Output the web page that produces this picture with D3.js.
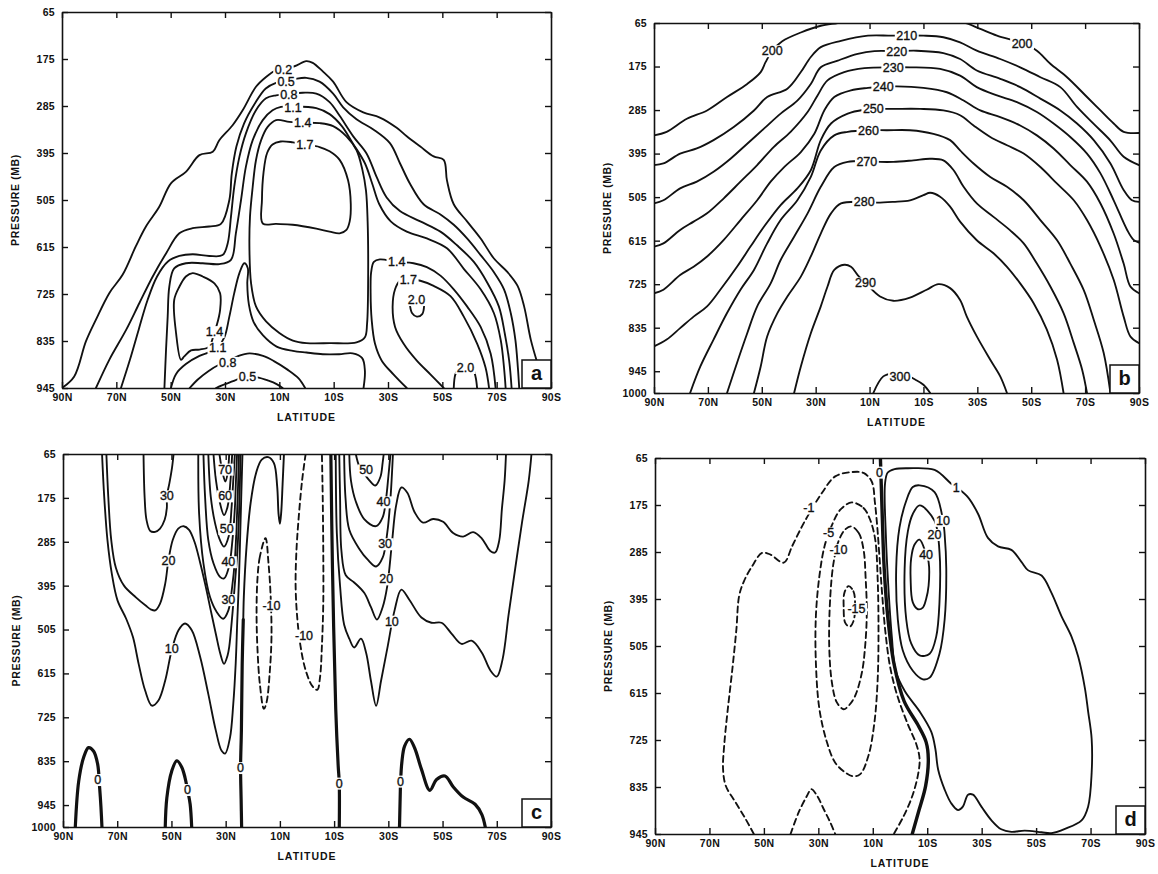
<!DOCTYPE html>
<html>
<head>
<meta charset="utf-8">
<script src="https://cdn.jsdelivr.net/npm/d3@7"></script>
<style>
  body { margin: 0; background: #fff; }
  svg { display: block; font-family: "Liberation Sans", Arial, sans-serif; }
</style>
</head>
<body>
<svg id="fig" width="1158" height="874"></svg>
<script>
// ---- axis values ----
const pTicks = [65, 175, 285, 395, 505, 615, 725, 835, 945];
const latTicks = [90, 70, 50, 30, 10, -10, -30, -50, -70, -90];

// ---- panel a : contours as [latitude (N +, S -), pressure mb] ----
const a02 = [[90,945],[85.5,918],[81.2,836],[77.5,785],[72.6,723],[67.7,680],[62.8,613],[59.1,567],[54.2,521],[49.9,466],[44.4,439],[39.4,400],[34.5,392],[32.1,365],[27.2,330],[23.5,295],[18.6,240],[14.9,217],[11.2,201],[8,195],[4.4,192],[0.1,180],[-2.3,184],[-6,204],[-9.8,228],[-14.7,276],[-20.9,300],[-27,312],[-33.2,336],[-36.9,356],[-41.9,380],[-46.8,403],[-50.5,411],[-51.7,459],[-54.2,515],[-59.1,555],[-64.1,595],[-69,642],[-74,674],[-77.7,706],[-80.1,754],[-82.6,833],[-85.1,889],[-86.3,913],[-87,945]];
const a05 = [[77.5,945],[72.6,879],[66.4,809],[61.5,746],[56.6,684],[51.7,630],[46.8,583],[41.9,571],[35.8,567],[31.5,561],[28.4,505],[27.5,443],[25.8,380],[23,326],[19,279],[15,244],[11.2,231],[7.5,226],[4.4,222],[0.1,219],[-4.8,228],[-9.8,256],[-13.5,288],[-18.4,316],[-24.6,340],[-30.7,372],[-34.4,419],[-38.1,467],[-43.1,515],[-49.3,539],[-54.2,563],[-59.1,595],[-64.1,634],[-69,674],[-72.7,714],[-75.2,770],[-76.9,833],[-77.8,897],[-78.3,945]];
const a08 = [[68.3,945],[65,879],[61.8,809],[58.5,739],[55,684],[51,649],[46.8,636],[41.9,632],[35.8,636],[30.9,634],[29,606],[27.8,544],[26.6,474],[24.7,404],[22.3,349],[18.6,295],[14.9,267],[11.2,260],[6.5,257],[1.4,254],[-3.6,256],[-8.5,276],[-12.2,308],[-17.2,356],[-22.1,396],[-25.8,451],[-29.5,499],[-34.4,531],[-41.9,555],[-49.3,579],[-55.4,611],[-61.6,650],[-66.5,698],[-70.8,754],[-73,818],[-74.6,881],[-75.5,945]];
const a11 = [[52.3,945],[51.7,855],[51.1,778],[50.5,708],[48.7,665],[44.4,653],[38.2,653],[32.1,655],[27.8,645],[26,583],[24.1,505],[22.3,427],[19.8,365],[16.1,318],[12.5,295],[9.4,287],[5,286],[-3.6,290],[-8.5,304],[-13,332],[-17,372],[-21.5,419],[-24.2,467],[-26.8,515],[-31,555],[-36.9,579],[-44.3,595],[-51.7,618],[-57.9,666],[-64.1,714],[-69,770],[-71.5,833],[-72.7,897],[-73.3,945]];
const a14box = [[11.2,318],[14.3,334],[16.7,365],[18.6,412],[19.8,474],[20.8,544],[21,622],[20.4,700],[18.6,754],[14.9,789],[10,816],[5,834],[0,840],[-8.5,840],[-18.4,838],[-21.5,826],[-22.3,794],[-22.7,674],[-22.5,555],[-21.9,483],[-20.6,435],[-18.4,388],[-14.7,356],[-9.8,332],[-4.8,325],[1.4,324],[6.3,322]];
const a17box = [[16.1,560],[16.4,505],[15.8,440],[14.5,395],[12.5,375],[9.5,368],[5,370],[0.6,375],[-4.8,381],[-8.5,391],[-12.2,411],[-15.3,459],[-16.3,515],[-15.9,555],[-14.7,575],[-12.2,583],[-8.5,579],[-3.6,572],[5.1,563],[11.2,561]];
const a14blob = [[46.2,879],[48,817],[48.7,739],[46.8,708],[44.4,684],[41.9,676],[38.2,684],[33.9,700],[31.8,723],[31.8,762],[33,797],[33.9,813],[35.8,848],[39.4,855],[42.5,857],[45,871]];
const a11dome = [[49.9,945],[48,912],[44.4,889],[39.4,870],[35.2,860],[32.7,850],[30.2,826],[28.4,778],[26.6,723],[24.7,676],[22.9,653],[21.6,665],[21.8,700],[21.2,750],[19.5,790],[16,822],[11,848],[5,858],[0,862],[-6,866],[-12,866],[-17,864],[-20.5,875],[-21.5,905],[-21,945]];
const a08dome = [[43,945],[40,925],[36,905],[32,890],[29,883],[25,870],[21,864],[16,870],[12,882],[7,902],[3,922],[0.5,945]];
const a05dome = [[33.3,945],[30,936],[27,929],[24,921],[21.7,918],[18,920],[14,928],[11,936],[8.8,945]];
const a14r = [[-36.9,945],[-32,913],[-27.7,881],[-25.2,841],[-24,786],[-23.6,722],[-23.8,674],[-24.8,650],[-27,644],[-33.2,650],[-39.4,653],[-44.3,662],[-49.3,682],[-54.2,714],[-59.1,754],[-64.1,802],[-67.8,865],[-69.6,945]];
const a17r = [[-50.5,945],[-45.6,913],[-40.6,881],[-35.7,841],[-32.6,802],[-31.7,754],[-32.6,714],[-34.4,694],[-37.5,690],[-41.9,694],[-46.8,706],[-53,730],[-57.9,778],[-62.8,841],[-65.9,897],[-67.2,945]];
const a20u = [[-38.1,752],[-38.9,770],[-40.6,778],[-42.6,772],[-43.3,752]];
const a20b = [[-54.2,945],[-54.8,913],[-56,901],[-58,897],[-60,897],[-61.4,902],[-62.3,921],[-62.8,945]];
const labA = [[8.5,199,"0.2"],[7.5,228,"0.5"],[6.5,259,"0.8"],[5,288,"1.1"],[1.4,324,"1.4"],[0.6,375,"1.7"],
  [33.9,813,"1.4"],[32.7,850,"1.1"],[29,885,"0.8"],[21.7,918,"0.5"],
  [-33.2,650,"1.4"],[-37.5,690,"1.7"],[-40.5,738,"2.0"],[-58.5,897,"2.0"]];

// ---- panel b ----
const b200a = [[90,349],[85.3,340],[77.8,307],[70.3,286],[62.9,252],[55.4,219],[50.4,189],[48.6,164],[46.1,135],[42.4,111],[35.5,89],[28.1,72],[21.8,65],[18,60]];
const b200b = [[-22,60],[-26.1,66],[-31.1,80],[-37.3,97],[-46.6,116],[-52.1,135],[-57.1,168],[-63.3,202],[-70.7,252],[-75.7,286],[-80.6,319],[-84.3,340],[-90,343]];
const b210 = [[90,424],[86.5,420],[80.3,395],[74.1,382],[67.9,361],[60.4,328],[52.9,286],[48,252],[40.5,231],[35.5,189],[31.8,151],[28.1,126],[20.6,110],[10.6,97],[1.8,97],[-10,97],[-17.4,101],[-23.6,114],[-29.8,135],[-38.5,156],[-45.9,177],[-53.4,202],[-60.8,227],[-67,277],[-73.2,320],[-79.4,362],[-84.3,403],[-90,424]];
const b220 = [[90,521],[86.5,513],[80.3,483],[74.1,466],[67.9,441],[61.6,408],[55.4,370],[49.2,332],[43,294],[36.8,261],[31.8,219],[28.1,177],[21.8,160],[14.4,143],[8.2,136],[-0.1,136],[-7.5,135],[-17.4,141],[-23.6,156],[-29.8,185],[-38.5,206],[-45.9,227],[-53.4,256],[-60.8,286],[-67,319],[-73.2,361],[-79.4,420],[-84.3,487],[-87.4,513],[-90,517]];
const b230 = [[90,630],[86.5,622],[80.3,588],[75.3,567],[70.3,546],[64.1,508],[57.9,466],[51.7,424],[45.5,378],[39.3,340],[33,290],[29.3,248],[25.6,210],[19.4,189],[11.9,179],[1.2,177],[-5,177],[-16.2,181],[-23.6,198],[-29.8,227],[-37.3,248],[-44.7,265],[-52.1,290],[-58.3,319],[-64.5,353],[-70.7,395],[-75.7,445],[-80.6,513],[-85.6,588],[-88,613],[-90,620]];
const b240 = [[90,748],[86.5,739],[80.3,702],[75.3,681],[70.3,655],[64.1,613],[57.9,563],[51.7,513],[46.7,466],[41.7,429],[35.5,391],[30.5,345],[26.8,286],[23.1,252],[16.9,235],[10.6,229],[4.9,226],[-0.1,225],[-10,229],[-18.7,240],[-24.9,261],[-31.1,286],[-38.5,303],[-45.9,324],[-52.1,349],[-58.3,382],[-64.5,424],[-70.7,466],[-75.7,521],[-80.6,597],[-84.3,673],[-86.8,731],[-90,748]];
const b250 = [[90,882],[85.3,865],[80.3,836],[75.3,807],[70.3,781],[65.4,739],[59.2,681],[54.2,630],[49.2,580],[43,525],[36.8,483],[31.8,437],[28.1,361],[24.3,319],[18.1,294],[11.9,284],[8.6,282],[1.2,282],[-8.8,282],[-17.4,286],[-23.6,298],[-28.6,324],[-34.8,353],[-41,374],[-47.2,395],[-53.4,429],[-59.6,471],[-65.8,513],[-70.7,563],[-75.7,630],[-80.6,714],[-84.3,807],[-86.8,857],[-90,874]];
const b260 = [[76.6,1000],[72.8,933],[67.9,865],[62.9,798],[57.9,739],[52.9,689],[48,622],[43,563],[36.8,513],[31.8,454],[28.1,387],[23.1,349],[18.1,340],[10.4,336],[3.6,336],[-5,336],[-13.7,345],[-19.9,361],[-23.6,387],[-28.6,420],[-34.8,454],[-41,479],[-47.2,513],[-53.4,563],[-59.6,614],[-64.5,673],[-69.5,740],[-73.2,815],[-76.9,899],[-79.4,1000]];
const b270 = [[62.9,1000],[59.2,924],[55.4,849],[51.7,781],[46.7,723],[43,664],[38,605],[33,546],[28.1,479],[23.1,429],[18.1,416],[11,414],[6.1,416],[1.2,416],[-6.3,412],[-12.5,408],[-17.4,412],[-21.2,437],[-24.9,479],[-29.8,521],[-36,555],[-42.2,589],[-47.2,622],[-52.1,673],[-57.1,731],[-62,798],[-65.8,874],[-68.9,941],[-70.7,1000]];
const b280 = [[52.9,1000],[50.4,933],[48,857],[44.2,798],[40.5,756],[35.5,706],[31.8,655],[28.1,597],[24.3,546],[20.6,521],[12,517],[7.3,519],[1.2,517],[-5,513],[-10,500],[-12.5,494],[-16.2,504],[-19.9,529],[-23.6,567],[-29.8,614],[-36,647],[-41,681],[-45.9,723],[-50.9,773],[-55.8,840],[-59.6,916],[-62,1000]];
const b290 = [[38,1000],[35.5,933],[31.8,849],[28.1,781],[25.6,731],[23.1,689],[19.4,676],[16.9,681],[14.4,702],[11.5,722],[6.1,756],[1.2,767],[-5,759],[-11.2,739],[-15.6,725],[-19.9,735],[-23.6,765],[-26.1,807],[-29.8,857],[-34.8,916],[-38.5,958],[-41,1000]];
const b300 = [[8.6,1000],[4.9,958],[1,950],[-2,950],[-6.9,966],[-10,979],[-12.5,1000]];
const labB = [[46.1,135,"200"],[-46.6,116,"200"],[-3.8,97,"210"],[-0.1,136,"220"],[1.2,177,"230"],[4.9,226,"240"],
  [8.6,282,"250"],[10.4,336,"260"],[11,414,"270"],[12,517,"280"],[11.5,722,"290"],[-1.3,958,"300"]];

// ---- panel c ----
const c10n = [[75.6,65],[74.8,172],[73.6,281],[72,365],[69.9,432],[66.7,478],[64.2,524],[62.1,591],[59.7,658],[57.2,696],[54.8,683],[52.3,633],[49.9,557],[47.4,507],[45,490],[42.5,507],[39.4,574],[36.4,667],[33.6,759],[31.5,809],[30.2,816],[28.4,776],[27.2,692],[26.3,590],[25.7,480],[25.1,381],[24.6,260],[24.2,160],[23.8,65]];
const c20n = [[74,65],[73.3,172],[72.2,281],[70.5,350],[67.5,395],[63,425],[59.5,445],[57.5,455],[56,457],[54.2,440],[52.3,390],[51.1,331],[49.5,280],[47.5,252],[45.5,246],[43.5,255],[41.5,285],[39.5,335],[37.6,390],[35.5,457],[33.5,520],[32,565],[30.6,591],[29.3,570],[28.7,549],[27.5,465],[26.5,381],[25.6,300],[25,200],[24.5,65]];
const c30u = [[60.3,65],[59.9,172],[59.2,230],[57.8,258],[56,260],[54.2,252],[52.5,230],[51.7,200],[51.7,170],[50.8,140],[49.8,100],[49.2,65]];
const c30 = [[40.1,65],[39.8,214],[38.2,339],[35.8,423],[33.3,461],[30.9,478],[29,457],[27.6,398],[26.6,330],[26,250],[25.5,160],[25.1,65]];
const c40 = [[38.2,65],[37.6,172],[36.4,281],[34.5,339],[32.1,373],[30.6,377],[28.8,348],[27.5,281],[26.6,200],[26.2,130],[25.8,65]];
const c50 = [[36.4,65],[35.5,172],[33.9,239],[32.1,281],[30.6,297],[28.9,272],[27.8,197],[27.1,120],[26.6,65]];
const c60 = [[34.5,65],[33.6,130],[32.1,188],[30.6,218],[29.3,197],[28.2,130],[27.6,65]];
const c70 = [[32.3,65],[31.1,113],[30.1,134],[29.2,109],[28.7,65]];
const c0dome1 = [[85.5,1005],[84.2,885],[82.4,826],[80.6,801],[78.7,810],[77.2,843],[76.5,900],[76,950],[75.6,1005]];
const c0dome2 = [[52.3,1005],[51.7,927],[49.9,860],[48,834],[46.2,850],[45,876],[44.1,906],[43.1,943],[42.5,1005]];
const c0lower = [[24.1,1005],[24.3,930],[24.5,851],[24.2,759],[23.9,591],[23.5,480]];
const c0upper = [[23.5,480],[23.3,423],[22.3,297],[20.8,188],[18.8,113],[16.7,79],[14.3,73],[12.2,88],[11,146],[10.5,215],[10,240],[9.5,210],[9,140],[8.5,65]];
const cm10a = [[15.3,276],[17.4,323],[18.3,381],[18.6,465],[18.3,549],[17.4,641],[15.9,704],[14.9,687],[13.7,608],[13.1,524],[13.4,423],[14.2,339]];
const cm10b = [[0.5,65],[1.8,131],[3,219],[3.9,308],[4.2,396],[3.6,475],[2.4,546],[0.5,607],[-2,647],[-3.8,656],[-4.8,625],[-5.5,546],[-6,440],[-6,308],[-5.8,175],[-5.5,65]];
const c0eq = [[-8.8,65],[-9.4,352],[-10.6,704],[-11.5,846],[-11.9,890],[-11.9,1005]];
const c50s = [[-18,65],[-19.3,96],[-21.5,118],[-23,131],[-25.2,144],[-27.1,122],[-27.9,87],[-28.3,65]];
const c40s = [[-15.6,65],[-16.2,131],[-18,184],[-21.1,228],[-25.5,246],[-27.9,224],[-29.2,175],[-30,122],[-30.8,65]];
const c30s = [[-13.7,65],[-14.2,175],[-15.6,255],[-19.3,303],[-22.4,330],[-25.5,347],[-27.9,325],[-29.6,263],[-30.8,175],[-31.7,65]];
const c20s = [[-11.9,65],[-12.2,175],[-12.7,308],[-14.3,369],[-17.4,387],[-21.1,413],[-23.6,449],[-25.8,480],[-27.9,449],[-29.6,396],[-31.3,290],[-32.9,193],[-34.8,149],[-37,162],[-39.7,211],[-42.8,237],[-46.5,228],[-50.2,235],[-53.9,263],[-57.6,272],[-61.3,261],[-64.5,277],[-67.6,308],[-69.4,312],[-70.9,282],[-71.9,202],[-72.9,131],[-73.4,65]];
const c10s = [[-10.6,65],[-11,263],[-12.2,396],[-13.7,493],[-15.6,528],[-17.4,550],[-19.9,528],[-21.8,563],[-23.6,634],[-25.5,696],[-27.3,634],[-29.8,546],[-32.3,457],[-34.8,405],[-37.8,431],[-42.2,475],[-45.9,488],[-49.6,488],[-53.3,515],[-57,541],[-60.7,533],[-64.5,563],[-67.6,607],[-70,623],[-72.1,581],[-74.4,466],[-76.8,352],[-79.3,237],[-81.8,131],[-82.8,65]];
const c0s = [[-34.1,1005],[-34.4,916],[-34.5,890],[-35,837],[-36,797],[-37.8,780],[-39.7,802],[-42.2,855],[-45.3,908],[-47.8,881],[-50.9,872],[-53.9,899],[-57.6,925],[-62,943],[-64.5,969],[-65.9,1005]];
const labC = [[51.7,170,"30"],[51.1,331,"20"],[49.9,553,"10"],[30.2,103,"70"],[30.2,170,"60"],[29.6,252,"50"],[29,335,"40"],[29,430,"30"],
  [13.1,444,"-10"],[1.1,519,"-10"],[77.2,881,"0"],[44.1,906,"0"],[24.5,851,"0"],[-11.9,890,"0"],[-34.5,885,"0"],
  [-21.8,105,"50"],[-28.2,185,"40"],[-28.8,290,"30"],[-29.2,378,"20"],[-31.3,484,"10"]];

// ---- panel d ----
const dm1 = [[53.7,945],[56.7,910],[60.4,871],[64,832],[65,793],[64.6,739],[63.4,661],[61.6,560],[60.1,466],[59.1,388],[57.3,353],[54.3,318],[50.6,287],[47.6,291],[42.7,310],[39.6,271],[36,225],[32.9,190],[28.7,147],[23.8,108],[17.7,98],[13.4,100],[10.4,120],[9.2,170],[8.3,230],[7.5,300],[6.6,380],[5.4,470],[3.6,555],[0.8,625],[-3,690],[-6,735],[-7.2,770],[-6.5,810],[-4.3,860],[-1.2,905],[2.3,945]];
const dm1b = [[40.2,945],[37.2,894],[34.1,855],[32.6,840],[30.5,855],[28,887],[25.6,918],[23.8,945]];
const dm5 = [[17.7,169],[13.4,182],[11,209],[9.1,256],[8.2,349],[7.9,466],[8.2,583],[9.4,684],[11.6,762],[14.6,805],[17.1,810],[20.1,801],[23.8,778],[26.8,731],[29.6,653],[30.9,544],[30.9,435],[29.6,341],[27.7,271],[25.2,225],[21.9,186]];
const dm10 = [[17.9,225],[15.2,240],[13.4,279],[12.6,349],[12.2,427],[12.8,505],[14,567],[16.5,622],[18.9,645],[20.7,653],[23.2,637],[25,591],[26,505],[25.6,388],[24.4,310],[22.6,260],[20.1,232]];
const dm15 = [[18.9,365],[17.1,377],[16.5,412],[17.1,447],[18.5,460],[20.1,451],[20.7,412],[20.4,380]];
const d0 = [[7.2,65],[6.9,125],[6.5,204],[5.8,324],[4.4,443],[2.2,547],[-1.5,634],[-6.6,690],[-9.6,730],[-10.4,770],[-9.4,833],[-7,889],[-4.5,945]];
const d1 = [[5.5,125],[4.5,99],[2,91],[-2.9,89],[-12.7,93],[-18.8,125],[-20.7,133],[-25,157],[-28.7,196],[-32.3,252],[-36,272],[-40.9,280],[-44.6,308],[-47.1,328],[-52,340],[-55.6,380],[-59.3,435],[-63,483],[-65.5,531],[-67.9,603],[-69.1,658],[-70.4,722],[-70.4,802],[-69.1,881],[-66.7,913],[-60.6,933],[-55.6,943],[-52,941],[-45.8,937],[-40.9,940],[-37.2,934],[-33.6,913],[-29.9,881],[-26.8,853],[-25,853],[-23.1,881],[-21.3,889],[-18.8,873],[-16.4,841],[-14,794],[-13,746],[-11.5,706],[-7.2,658],[-1.8,611],[1.6,563],[3,483],[4.3,364],[5.2,244]];
const d10 = [[-7.2,129],[-12.7,145],[-15.8,211],[-16.4,244],[-17,324],[-16.4,443],[-14.5,523],[-10.9,579],[-8.4,583],[-4.7,563],[-1,515],[0.8,443],[1.4,324],[0.2,228],[-2.3,165],[-4.7,133]];
const d20 = [[-7.2,176],[-12.7,212],[-14.5,284],[-14.5,403],[-13.3,483],[-10.9,523],[-7.2,527],[-4.1,499],[-2.3,443],[-1.7,324],[-2.9,236],[-4.7,196]];
const d40 = [[-7.2,256],[-9.6,290],[-10.5,308],[-10.5,364],[-9.6,395],[-8.4,415],[-6.6,419],[-4.7,403],[-3.9,348],[-4.1,300],[-5.3,268]];
const labD = [[33.5,182,"-1"],[26.2,240,"-5"],[22.6,279,"-10"],[16,417,"-15"],[7.5,98,"0"],[-20.7,133,"1"],
  [-15.8,211,"10"],[-12.7,244,"20"],[-9.6,290,"40"]];

// ---- layout (pixels) ----
const layout = {
  a: {x0: 62, x1: 551, y0: 12, y1: 388, pmax: 945},
  b: {x0: 654, x1: 1139, y0: 23, y1: 393, pmax: 1000},
  c: {x0: 63, x1: 551, y0: 454, y1: 827, pmax: 1000},
  d: {x0: 655, x1: 1145, y0: 458, y1: 834, pmax: 945}
};

const svg = d3.select("#fig");
svg.append("rect").attr("width", 1158).attr("height", 874).attr("fill", "#fff");

function latFmt(d) { return d > 0 ? d + "N" : (-d) + "S"; }

function drawPanel(key, lines, labels) {
  const L = layout[key];
  const x = d3.scaleLinear().domain([90, -90]).range([L.x0, L.x1]);
  const y = d3.scaleLinear().domain([65, L.pmax]).range([L.y0, L.y1]);
  const g = svg.append("g");

  g.append("clipPath").attr("id", "clip-" + key).append("rect")
    .attr("x", L.x0).attr("y", L.y0).attr("width", L.x1 - L.x0).attr("height", L.y1 - L.y0);
  const plot = g.append("g").attr("clip-path", `url(#clip-${key})`);

  const open = d3.line().x(d => x(d[0])).y(d => y(d[1])).curve(d3.curveCatmullRom.alpha(0.5));
  const closed = d3.line().x(d => x(d[0])).y(d => y(d[1])).curve(d3.curveCatmullRomClosed.alpha(0.5));

  plot.selectAll("path.contour").data(lines).join("path")
    .attr("class", "contour")
    .attr("d", l => (l.closed ? closed : open)(l.pts))
    .attr("fill", "none")
    .attr("stroke", "#111")
    .attr("stroke-width", l => l.w || 1.85)
    .attr("stroke-dasharray", l => l.dash ? "6,4" : null)
    .attr("stroke-linejoin", "round")
    .attr("stroke-linecap", "round");

  // contour labels sit in a white gap cut out of the line
  const lab = plot.selectAll("g.clab").data(labels).join("g").attr("class", "clab");
  const txt = lab.append("text")
    .attr("x", d => x(d[0])).attr("y", d => y(d[1]))
    .attr("dy", "0.36em")
    .attr("text-anchor", "middle")
    .attr("font-size", 12.5)
    .attr("fill", "#111")
    .attr("stroke", "#111").attr("stroke-width", 0.35)
    .text(d => d[2]);
  txt.each(function() {
    const b = this.getBBox();
    d3.select(this.parentNode).insert("rect", "text")
      .attr("x", b.x - 1.5).attr("y", b.y + 1).attr("width", b.width + 3).attr("height", b.height - 2)
      .attr("fill", "#fff");
  });

  const pvals = L.pmax === 1000 ? pTicks.concat([1000]) : pTicks;
  const styleAxis = sel => {
    sel.attr("font-family", null).attr("font-size", null);
    sel.selectAll("path.domain").attr("stroke", "#111").attr("stroke-width", 1.6);
    sel.selectAll(".tick line").attr("stroke", "#111").attr("stroke-width", 1.4);
    sel.selectAll(".tick text").attr("fill", "#111").attr("font-size", 10.5)
      .attr("font-weight", "bold").attr("letter-spacing", 0.3);
  };

  g.append("g").attr("transform", `translate(${L.x0},0)`)
    .call(d3.axisLeft(y).tickValues(pvals).tickFormat(d3.format("d")).tickSize(-6).tickSizeOuter(0).tickPadding(7))
    .call(styleAxis);
  g.append("g").attr("transform", `translate(${L.x1},0)`)
    .call(d3.axisRight(y).tickValues(pvals).tickFormat("").tickSize(-6).tickSizeOuter(0))
    .call(styleAxis);
  g.append("g").attr("transform", `translate(0,${L.y1})`)
    .call(d3.axisBottom(x).tickValues(latTicks).tickFormat(latFmt).tickSize(-6).tickSizeOuter(0).tickPadding(6))
    .call(styleAxis);
  g.append("g").attr("transform", `translate(0,${L.y0})`)
    .call(d3.axisTop(x).tickValues(latTicks).tickFormat("").tickSize(-6).tickSizeOuter(0))
    .call(styleAxis);

  // panel letter box
  g.append("rect").attr("x", L.x1 - 29).attr("y", L.y1 - 28).attr("width", 29).attr("height", 28)
    .attr("fill", "#fff").attr("stroke", "#111").attr("stroke-width", 1.5);
  g.append("text").attr("x", L.x1 - 14.5).attr("y", L.y1 - 8)
    .attr("text-anchor", "middle").attr("font-size", 20).attr("font-weight", "bold").attr("fill", "#111")
    .text(key);

  // axis titles
  g.append("text")
    .attr("transform", `translate(${L.x0 - 47},${(L.y0 + L.y1) / 2}) rotate(-90)`)
    .attr("text-anchor", "middle").attr("dy", "0.35em")
    .attr("font-size", 10.5).attr("font-weight", "bold").attr("letter-spacing", 0.6).attr("fill", "#111")
    .text("PRESSURE (MB)");
  g.append("text")
    .attr("x", (L.x0 + L.x1) / 2).attr("y", L.y1 + 33)
    .attr("text-anchor", "middle")
    .attr("font-size", 10.5).attr("font-weight", "bold").attr("letter-spacing", 1).attr("fill", "#111")
    .text("LATITUDE");
}

drawPanel("a", [
  {pts: a02}, {pts: a05}, {pts: a08}, {pts: a11},
  {pts: a14box, closed: true}, {pts: a17box, closed: true}, {pts: a14blob, closed: true},
  {pts: a11dome}, {pts: a08dome}, {pts: a05dome},
  {pts: a14r}, {pts: a17r}, {pts: a20u}, {pts: a20b}
], labA);

drawPanel("b", [
  {pts: b200a}, {pts: b200b}, {pts: b210}, {pts: b220}, {pts: b230}, {pts: b240},
  {pts: b250}, {pts: b260}, {pts: b270}, {pts: b280}, {pts: b290}, {pts: b300}
], labB);

drawPanel("c", [
  {pts: c10n}, {pts: c20n}, {pts: c30u}, {pts: c30}, {pts: c40}, {pts: c50}, {pts: c60}, {pts: c70},
  {pts: c0dome1, w: 3.2}, {pts: c0dome2, w: 3.2}, {pts: c0lower, w: 3.2}, {pts: c0upper, w: 1.9},
  {pts: cm10a, closed: true, dash: true}, {pts: cm10b, dash: true},
  {pts: c0eq, w: 3.2}, {pts: c50s}, {pts: c40s}, {pts: c30s}, {pts: c20s}, {pts: c10s},
  {pts: c0s, w: 3.2}
], labC);

drawPanel("d", [
  {pts: dm1, dash: true}, {pts: dm1b, dash: true},
  {pts: dm5, closed: true, dash: true}, {pts: dm10, closed: true, dash: true}, {pts: dm15, closed: true, dash: true},
  {pts: d0, w: 3.4}, {pts: d1, closed: true},
  {pts: d10, closed: true}, {pts: d20, closed: true}, {pts: d40, closed: true}
], labD);
</script>
</body>
</html>
